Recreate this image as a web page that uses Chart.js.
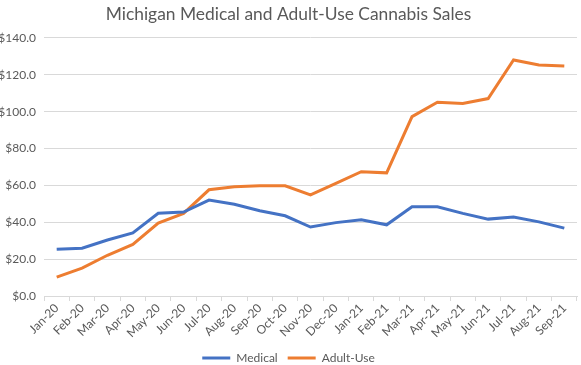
<!DOCTYPE html>
<html>
<head>
<meta charset="utf-8">
<script src="https://cdn.jsdelivr.net/npm/chart.js@4"></script>
<style>
  html, body { margin: 0; padding: 0; background: #fff; }
  #wrap { width: 581px; height: 365px; }
</style>
</head>
<body>
<div id="wrap"><canvas id="myChart"></canvas></div>
<script>
const months = ["Jan-20","Feb-20","Mar-20","Apr-20","May-20","Jun-20","Jul-20","Aug-20","Sep-20","Oct-20","Nov-20","Dec-20",
  "Jan-21","Feb-21","Mar-21","Apr-21","May-21","Jun-21","Jul-21","Aug-21","Sep-21"];
const medical = [25.3, 25.9, 30.4, 34.2, 44.9, 45.5, 52.0, 49.8, 46.2, 43.5, 37.4, 39.8, 41.3, 38.6, 48.4, 48.4, 44.8, 41.7, 42.8, 40.2, 36.8];
const adultUse = [10.2, 15.1, 22.1, 28.0, 39.6, 44.8, 57.6, 59.2, 59.8, 59.8, 54.8, 61.1, 67.4, 66.8, 97.3, 105.1, 104.4, 107.1, 128.0, 125.3, 124.7];
const yTicks = [0, 20, 40, 60, 80, 100, 120, 140];

const font = "Lato, 'Open Sans', sans-serif";
const grey = "#595959";
const gridColor = "#D9D9D9";

const ctx = document.getElementById("myChart").getContext("2d");
new Chart(ctx, {
  type: "line",
  data: {
    labels: months,
    datasets: [
      {
        label: "Medical",
        data: medical,
        borderColor: "#4472C4",
        backgroundColor: "#4472C4",
        borderWidth: 3,
        pointRadius: 0,
        tension: 0
      },
      {
        label: "Adult-Use",
        data: adultUse,
        borderColor: "#ED7D31",
        backgroundColor: "#ED7D31",
        borderWidth: 3,
        pointRadius: 0,
        tension: 0
      }
    ]
  },
  options: {
    responsive: true,
    maintainAspectRatio: false,
    animation: false,
    // negative bottom padding pulls the legend down to where Excel puts it
    layout: { padding: { left: 0, right: 4, top: 0, bottom: -9 } },
    plugins: {
      title: {
        display: true,
        text: "Michigan Medical and Adult-Use Cannabis Sales",
        color: grey,
        font: { family: font, size: 17.4, weight: "normal" },
        padding: { top: 4, bottom: 13 }
      },
      tooltip: { enabled: false },
      legend: {
        position: "bottom",
        labels: {
          color: grey,
          font: { family: font, size: 12 },
          usePointStyle: true,
          pointStyle: "line",
          pointStyleWidth: 28,
          padding: 10,
          boxHeight: 12
        }
      }
    },
    scales: {
      x: {
        offset: true,
        grid: {
          offset: true,
          drawOnChartArea: false,
          drawTicks: true,
          tickLength: 5,
          color: gridColor
        },
        border: { display: true, color: gridColor },
        ticks: {
          color: grey,
          font: { family: font, size: 12 },
          minRotation: 45,
          maxRotation: 45,
          autoSkip: false,
          padding: 0
        },
        afterFit(scale) { scale.height = 46; }
      },
      y: {
        min: 0,
        max: 140,
        afterBuildTicks(scale) { scale.ticks = yTicks.map(v => ({ value: v })); },
        grid: { color: gridColor, drawTicks: false },
        border: { display: false },
        ticks: {
          color: grey,
          font: { family: font, size: 12 },
          padding: 8,
          callback: v => "$" + Number(v).toFixed(1)
        },
        afterFit(scale) { scale.width = 44; }
      }
    }
  }
});
</script>
</body>
</html>
